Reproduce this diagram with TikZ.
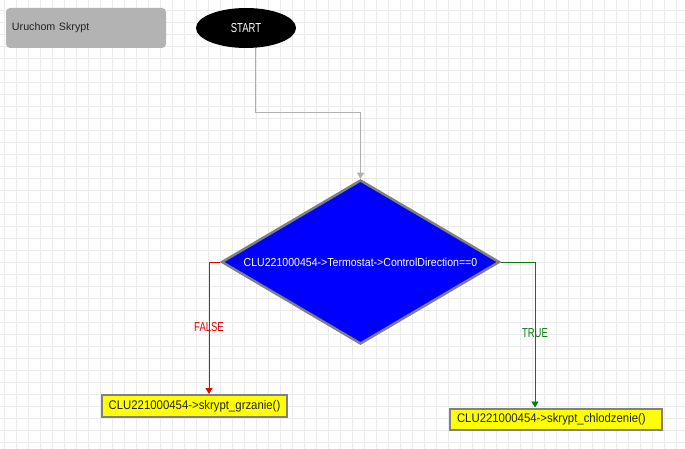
\documentclass[tikz,border=0pt]{standalone}
\usepackage{fontspec}
\setmainfont{Liberation Sans}
\newfontfamily\narrowfont[FakeStretch=0.73]{Liberation Sans}
\newfontfamily\midfont[FakeStretch=0.91]{Liberation Sans}
\usetikzlibrary{shapes.geometric,arrows.meta}
\definecolor{gridc}{HTML}{EBEBEB}
\definecolor{panelgray}{HTML}{B3B3B3}
\definecolor{bordergray}{HTML}{808080}
\definecolor{flowgraycol}{HTML}{B0B0B0}
\definecolor{falsered}{HTML}{E60000}
\definecolor{truegreen}{HTML}{0A7A0A}
\definecolor{textdark}{HTML}{222222}
\definecolor{diablue}{HTML}{0000FF}
\definecolor{boxyellow}{HTML}{FFFF00}
\begin{document}
\begin{tikzpicture}[x=1pt,y=-1pt,
  gridline/.style={draw=gridc,line width=0.9pt},
  panel/.style={rounded corners=4pt,fill=panelgray,minimum width=160,minimum height=40,
    text width=148,inner xsep=6,inner ysep=0,align=left,text=textdark,
    font=\fontsize{10.7}{12}\selectfont},
  startnode/.style={ellipse,fill=black,text=white,minimum width=100,minimum height=40,
    inner sep=0,font=\narrowfont\fontsize{13}{14}\selectfont},
  decision/.style={diamond,aspect=1.69,fill=diablue,draw=bordergray,line width=2.5pt,
    minimum width=278,minimum height=164,inner sep=0,text=white,
    font=\midfont\fontsize{11.6}{13}\selectfont},
  action/.style={fill=boxyellow,draw=bordergray,line width=2pt,inner xsep=7,inner ysep=0,
    text=textdark,font=\midfont\fontsize{12.5}{14}\selectfont},
  tip/.style={-{Triangle[width=7pt,length=6pt]}},
  flowgray/.style={tip,draw=flowgraycol,line width=0.9pt},
  flowred/.style={tip,draw=falsered,line width=0.9pt},
  flowgreen/.style={tip,draw=truegreen,line width=0.9pt},
  lbl/.style={font=\narrowfont\fontsize{13}{14}\selectfont,inner sep=0}
]
\useasboundingbox (0,0) rectangle (685,449);
\fill[white] (0,0) rectangle (685,449);
\foreach \i in {0,...,56} \draw[gridline] ({4.3+12*\i},0) -- ({4.3+12*\i},449);
\foreach \j in {0,...,37} \draw[gridline] (0,{10.7+12*\j}) -- (685,{10.7+12*\j});

\node[panel] (run) at (86,28) {Uruchom Skrypt};
\node[startnode] (start) at (246,28) {START};
\node[decision] (dia) at (360.5,262) {CLU221000454->Termostat->ControlDirection==0};
\node[action,minimum width=185,minimum height=22] (grz) at (194.5,406) {CLU221000454->skrypt\_grzanie()};
\node[action,text width=198,align=left,minimum height=21] (chl) at (556,419) {CLU221000454->skrypt\_chlodzenie()};

\draw[flowgray] ([xshift=9pt]start.south) -- ++(0,64) -| (dia.north);
\draw[flowred] (dia.west) -| ([xshift=14.5pt]grz.north)
  node[lbl,text=falsered,pos=0.746] {FALSE};
\draw[flowgreen] (dia.east) -| ([xshift=-21pt]chl.north)
  node[lbl,text=truegreen,pos=0.743] {TRUE};
\end{tikzpicture}
\end{document}
